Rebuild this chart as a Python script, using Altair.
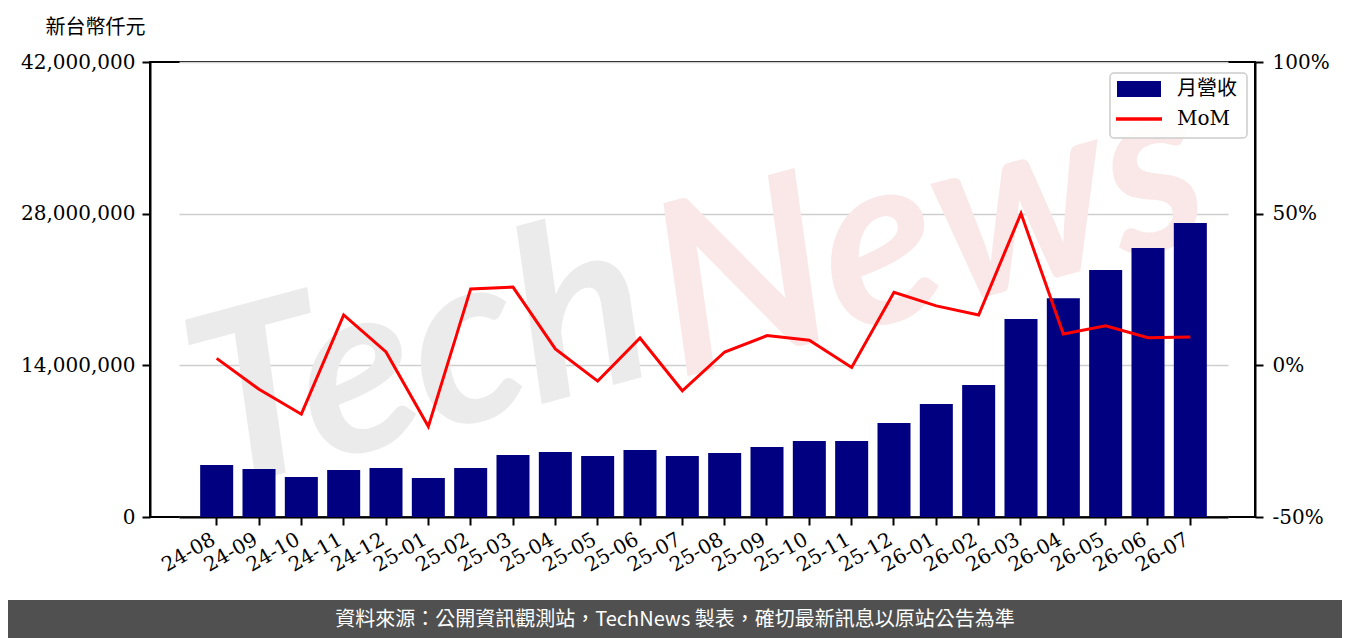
import altair as alt
import pandas as pd

months = ["24-08","24-09","24-10","24-11","24-12","25-01","25-02","25-03","25-04","25-05",
          "25-06","25-07","25-08","25-09","25-10","25-11","25-12","26-01","26-02","26-03",
          "26-04","26-05","26-06","26-07"]
revenue = [4800000, 4430000, 3690000, 4340000, 4520000, 3600000, 4520000, 5720000, 6000000, 5630000,
           6180000, 5630000, 5910000, 6460000, 7020000, 7020000, 8680000, 10430000, 12180000, 18280000,
           20200000, 22800000, 24830000, 27140000]
mom = [0.023, -0.079, -0.161, 0.166, 0.044, -0.202, 0.252, 0.258, 0.054, -0.052,
       0.090, -0.084, 0.044, 0.098, 0.083, -0.007, 0.241, 0.196, 0.166, 0.501,
       0.103, 0.130, 0.091, 0.093]
left_ticks = [0, 14000000, 28000000, 42000000]
right_ticks = [-0.5, 0.0, 0.5, 1.0]
unit_title = "新台幣仟元"
legend_labels = ["月營收", "MoM"]
footer_text = "資料來源：公開資訊觀測站，TechNews 製表，確切最新訊息以原站公告為準"

df = pd.DataFrame({"month": months, "revenue": revenue, "mom": mom})
one = pd.DataFrame({"k": [0]})

W, H = 1105, 455
SERIF = "DejaVu Serif"
CJK = "Noto Sans CJK TC"

xenc = alt.X("month:N", sort=months,
             scale=alt.Scale(paddingInner=0.22, paddingOuter=0.5, range=[29, 1078]),
             axis=alt.Axis(title=None, labelAngle=-30, labelFont=SERIF, labelFontSize=20,
                           labelColor="black", tickColor="black", tickWidth=2, tickSize=8,
                           labelAlign="right", labelBaseline="top", labelOffset=-8,
                           domainColor="black", domainWidth=2, labelPadding=4))

# watermark
wm_tech = alt.Chart(one).mark_text(text="Tech", font="Lato", fontSize=240, fontWeight="bold",
                                   fontStyle="italic", color="#ebebeb", angle=345,
                                   align="center", baseline="middle").encode(
    x=alt.value(270), y=alt.value(300))
wm_news = alt.Chart(one).mark_text(text="News", font="Lato", fontSize=240, fontWeight="bold",
                                   fontStyle="italic", color="#fae8e8", angle=345,
                                   align="center", baseline="middle").encode(
    x=alt.value(780), y=alt.value(175))

bars = alt.Chart(df).mark_bar(color="#000080").encode(
    x=xenc,
    y=alt.Y("revenue:Q", scale=alt.Scale(domain=[0, 42000000], nice=False),
            axis=alt.Axis(title=unit_title, values=left_ticks,
                          labelExpr="format(datum.value, ',d')",
                          titleAngle=0, titleFont=CJK, titleFontSize=20, titleFontWeight="normal",
                          titleColor="black", titleAlign="center", titleBaseline="middle",
                          titleX=-55, titleY=-35,
                          labelFont=SERIF, labelFontSize=20, labelColor="black",
                          tickColor="black", tickWidth=2, tickSize=8, labelPadding=7,
                          domainColor="black", domainWidth=2,
                          grid=True, gridColor="#cfcfcf", gridWidth=1.5))
)

line = alt.Chart(df).mark_line(color="#ff0000", strokeWidth=3).encode(
    x=alt.X("month:N", sort=months),
    y=alt.Y("mom:Q", scale=alt.Scale(domain=[-0.5, 1.0], nice=False),
            axis=alt.Axis(title=None, orient="right", values=right_ticks,
                          labelExpr="round(datum.value*100) + '%'",
                          labelFont=SERIF, labelFontSize=20, labelColor="black",
                          tickColor="black", tickWidth=2, tickSize=8, labelPadding=9,
                          domainColor="black", domainWidth=2, grid=False))
)

# legend
leg_box = alt.Chart(one).mark_rect(fill="white", fillOpacity=0.85, stroke="#cccccc",
                                   strokeWidth=1.5, cornerRadius=4).encode(
    x=alt.value(960), x2=alt.value(1097), y=alt.value(11), y2=alt.value(76))
leg_sw = alt.Chart(one).mark_rect(color="#000080").encode(
    x=alt.value(967), x2=alt.value(1011), y=alt.value(19), y2=alt.value(35))
leg_ln = alt.Chart(one).mark_rule(color="#ff0000", strokeWidth=3.5).encode(
    x=alt.value(966), x2=alt.value(1012), y=alt.value(57))
leg_t1 = alt.Chart(one).mark_text(text=legend_labels[0], font=CJK, fontSize=20, align="left",
                                  baseline="middle", color="black").encode(
    x=alt.value(1027), y=alt.value(27))
leg_t2 = alt.Chart(one).mark_text(text=legend_labels[1], font=SERIF, fontSize=20, align="left",
                                  baseline="middle", color="black").encode(
    x=alt.value(1027), y=alt.value(57))

# footer
foot_bg = alt.Chart(one).mark_rect(color="#505050").encode(
    x=alt.value(-150), x2=alt.value(1210), y=alt.value(538), y2=alt.value(580))
foot_tx = alt.Chart(one).mark_text(text=footer_text, font=CJK, fontSize=20, color="white",
                                   align="center", baseline="middle").encode(
    x=alt.value(525), y=alt.value(558))

chart = alt.layer(
    wm_tech, wm_news, bars, line, leg_box, leg_sw, leg_ln, leg_t1, leg_t2, foot_bg, foot_tx
).resolve_scale(y="independent").properties(
    width=W, height=H,
    background="white",
    autosize=alt.AutoSizeParams(type="none"),
    padding={"left": 142, "top": 54, "right": 87, "bottom": 121},
).configure_view(stroke="black", strokeWidth=2)

chart.save("out.html", embed_options={"renderer": "svg", "actions": False})
